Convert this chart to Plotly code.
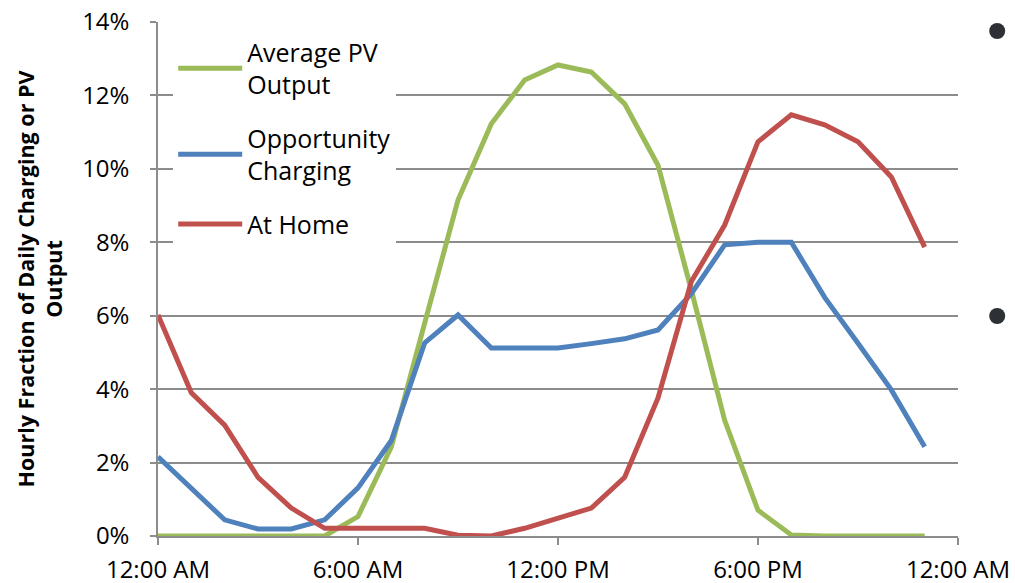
import plotly.graph_objects as go

# Hour of day (0 = midnight) and hourly shares, in percent
hours = list(range(24))
pv_output = [0, 0, 0, 0, 0, 0, 0.53, 2.43, 5.8, 9.15, 11.23, 12.42,
             12.83, 12.64, 11.77, 10.1, 6.7, 3.15, 0.7, 0.03, 0, 0, 0, 0]
opportunity = [2.16, 1.31, 0.44, 0.19, 0.19, 0.44, 1.31, 2.6, 5.26, 6.02, 5.12, 5.12,
               5.12, 5.24, 5.37, 5.61, 6.6, 7.93, 8.0, 8.0, 6.5, 5.25, 3.98, 2.43]
at_home = [6.02, 3.9, 3.02, 1.6, 0.76, 0.21, 0.21, 0.21, 0.21, 0.02, 0, 0.21,
           0.49, 0.76, 1.6, 3.76, 6.93, 8.47, 10.74, 11.47, 11.2, 10.74, 9.78, 7.87]

x_tick_vals = [0, 6, 12, 18, 24]
x_tick_text = ["12:00 AM", "6:00 AM", "12:00 PM", "6:00 PM", "12:00 AM"]
y_tick_vals = [0, 2, 4, 6, 8, 10, 12, 14]
y_tick_text = [f"{v}%" for v in y_tick_vals]

series = [
    ("Average PV<br>Output", pv_output, "#9BBB59"),
    ("Opportunity<br>Charging", opportunity, "#4F81BD"),
    ("At Home", at_home, "#C0504D"),
]

FONT = "Open Sans"
GRID = "#8c8c8c"

fig = go.Figure()
for i, (name, vals, color) in enumerate(series):
    fig.add_trace(go.Scatter(
        x=hours, y=vals, name=name, mode="lines",
        line=dict(color=color, width=5),
        legendgroup=f"g{i}",
    ))

fig.update_layout(
    width=1015, height=583,
    margin=dict(l=158, r=57, t=22, b=47, autoexpand=False),
    paper_bgcolor="white", plot_bgcolor="white",
    font=dict(family=FONT, size=24, color="black"),
    showlegend=True,
    legend=dict(
        x=0.019, y=0.986, xanchor="left", yanchor="top",
        bgcolor="white", borderwidth=0,
        font=dict(family=FONT, size=25, color="black"),
        itemwidth=64, tracegroupgap=18, traceorder="grouped",
    ),
    xaxis=dict(
        range=[0, 24], tickvals=x_tick_vals, ticktext=x_tick_text,
        showgrid=False, zeroline=False,
        showline=True, linecolor=GRID, linewidth=1.5,
        ticks="outside", ticklen=7, tickcolor=GRID, tickwidth=1.5,
        ticklabelstandoff=4,
        tickfont=dict(family=FONT, size=24, color="black"),
    ),
    yaxis=dict(
        range=[0, 14], tickvals=y_tick_vals, ticktext=y_tick_text,
        showgrid=True, gridcolor=GRID, gridwidth=1.5, zeroline=False,
        showline=True, linecolor=GRID, linewidth=1.5,
        ticks="outside", ticklen=6, tickcolor=GRID, tickwidth=1.5,
        ticklabelstandoff=16,
        tickfont=dict(family=FONT, size=24, color="black"),
        title=dict(
            text="<b>Hourly Fraction of Daily Charging or PV<br>Output</b>",
            font=dict(family=FONT, size=21.5, color="black"),
            standoff=14,
        ),
    ),
)

# Bullet markers of the neighbouring text column
for yc in (0.9825, 0.428):
    fig.add_shape(
        type="circle", xref="paper", yref="paper",
        xsizemode="pixel", ysizemode="pixel",
        xanchor=1.049, yanchor=yc,
        x0=-8, x1=8, y0=-8, y1=8,
        fillcolor="#2d3135", line=dict(width=0),
    )

fig.write_html("out.html")
